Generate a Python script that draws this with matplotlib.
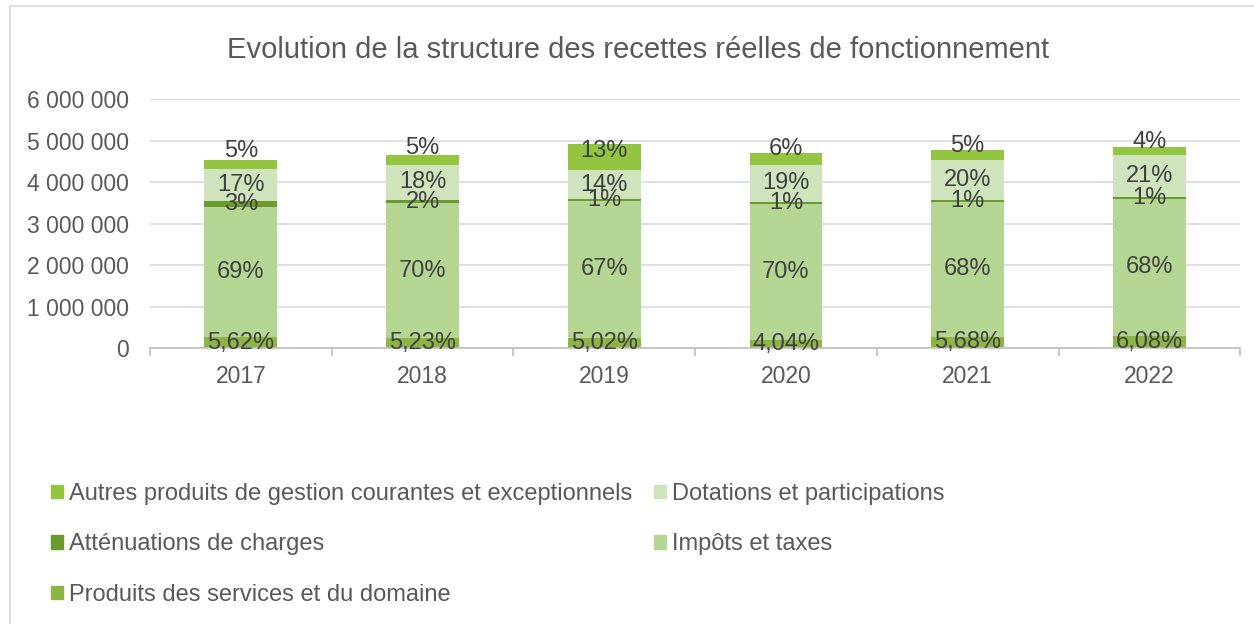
import numpy as np
import matplotlib.pyplot as plt
from matplotlib.patches import Patch, Rectangle

plt.rcParams["font.family"] = ["Liberation Sans", "DejaVu Sans"]

years = ["2017", "2018", "2019", "2020", "2021", "2022"]
totals = [4550000, 4630000, 4920000, 4700000, 4780000, 4850000]

# share of each category in the yearly total (%), as printed on the bars
pct_produits = [5.62, 5.23, 5.02, 4.04, 5.68, 6.08]
pct_impots = [69, 70, 67, 70, 68, 68]
pct_attenuations = [3, 2, 1, 1, 1, 1]
pct_dotations = [17, 18, 14, 19, 20, 21]
pct_autres = [5, 5, 13, 6, 5, 4]

series = [
    ("Produits des services et du domaine", pct_produits, "#8cb543", True),
    ("Impôts et taxes", pct_impots, "#b5d692", False),
    ("Atténuations de charges", pct_attenuations, "#6b9a2f", False),
    ("Dotations et participations", pct_dotations, "#cfe3bc", False),
    ("Autres produits de gestion courantes et exceptionnels", pct_autres, "#93c540", False),
]

text_col = "#404040"
axis_col = "#595959"

fig = plt.figure(figsize=(12.54, 6.24), dpi=100)
ax = fig.add_axes([0.1196, 0.4423, 0.8694, 0.399])

x = np.arange(len(years))
bottom = np.zeros(len(years))
prev_label_y = None
for k, (name, pct, color, decimals) in enumerate(series):
    vals = np.array(totals) * np.array(pct) / 100.0
    ax.bar(x, vals, width=0.4, bottom=bottom, color=color, label=name, zorder=2)
    label_y = bottom + vals / 2
    if k == len(series) - 1:
        # top label is pushed up so it does not sit on the one below
        label_y = np.maximum(label_y, prev_label_y + 820000)
    for xi, ly, p in zip(x, label_y, pct):
        if decimals:
            lab = f"{p:.2f}%".replace(".", ",")
        else:
            lab = f"{p:.0f}%"
        ax.text(xi, ly, lab, ha="center", va="center",
                fontsize=17, color=text_col, zorder=3)
    bottom += vals
    prev_label_y = label_y

ax.set_xlim(-0.5, len(years) - 0.5)
ax.set_ylim(0, 6000000)
ax.set_yticks(np.arange(0, 6000001, 1000000))
ax.set_yticklabels([f"{int(v):,}".replace(",", " ") for v in ax.get_yticks()])
ax.yaxis.grid(True, color="#d9d9d9", linewidth=1.2, zorder=0)
ax.set_axisbelow(True)

for s in ["top", "right", "left"]:
    ax.spines[s].set_visible(False)
ax.spines["bottom"].set_color("#bfbfbf")
ax.spines["bottom"].set_linewidth(1.2)

ax.set_xticks(x)
ax.set_xticklabels(years)
ax.set_xticks(np.arange(-0.5, len(years), 1.0), minor=True)
ax.tick_params(axis="x", which="major", length=0, pad=12, labelsize=16.5, labelcolor=axis_col)
ax.tick_params(axis="x", which="minor", length=6, color="#bfbfbf", width=1.2)
ax.tick_params(axis="y", length=0, pad=15, labelsize=16.5, labelcolor=axis_col)

fig.text(0.509, 0.92, "Evolution de la structure des recettes réelles de fonctionnement",
         ha="center", va="center", fontsize=21, color=axis_col)

handles = [Patch(color=c, label=n) for n, _, c, _ in series]
order = [4, 2, 0, 3, 1]
leg = fig.legend([handles[i] for i in order], [series[i][0] for i in order],
                 ncol=2, loc="upper left", bbox_to_anchor=(0.033, 0.241),
                 frameon=False, fontsize=17, handlelength=0.5, handleheight=0.5,
                 handletextpad=0.25, labelspacing=1.2, columnspacing=0.95,
                 borderaxespad=0)
for t in leg.get_texts():
    t.set_color(axis_col)

fig.patches.append(Rectangle((0.008, -0.01), 1.5, 1.0, transform=fig.transFigure,
                             fill=False, edgecolor="#d9d9d9", linewidth=1.2))

fig.savefig("out.png", dpi=100)
